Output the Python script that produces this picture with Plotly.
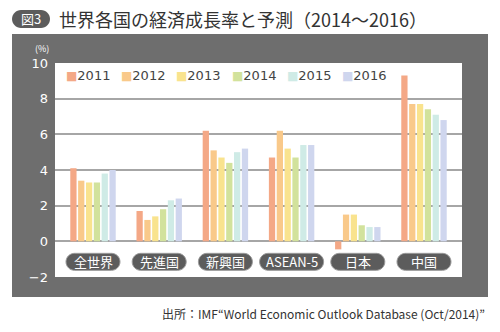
import plotly.graph_objects as go

categories = ["全世界", "先進国", "新興国", "ASEAN-5", "日本", "中国"]
years = ["2011", "2012", "2013", "2014", "2015", "2016"]
v2011 = [4.1, 1.7, 6.2, 4.7, -0.45, 9.3]
v2012 = [3.4, 1.2, 5.1, 6.2, 1.5, 7.7]
v2013 = [3.3, 1.4, 4.7, 5.2, 1.5, 7.7]
v2014 = [3.3, 1.8, 4.4, 4.7, 0.9, 7.4]
v2015 = [3.8, 2.3, 5.0, 5.4, 0.8, 7.1]
v2016 = [4.0, 2.4, 5.2, 5.4, 0.8, 6.8]
series = [v2011, v2012, v2013, v2014, v2015, v2016]
colors = ["#F4A886", "#F9C98A", "#F9E38E", "#D2E29C", "#CFEBE6", "#CFD6EE"]
yticks = [-2, 0, 2, 4, 6, 8, 10]

JP = "Noto Sans CJK JP"
xpos = list(range(len(categories)))

fig = go.Figure()
for name, vals, col in zip(years, series, colors):
    fig.add_trace(go.Bar(x=xpos, y=vals, name=name, marker=dict(color=col, line=dict(width=0)),
                         showlegend=False))

L, R, T, B = 55, 38, 63, 55
W, H = 500, 332
pw, ph = W - L - R, H - T - B

def px_x(p):
    return (p - L) / pw

def px_y(p):
    return (H - B - p) / ph

shapes = []
# grey panel
shapes.append(dict(type="rect", xref="paper", yref="paper", x0=px_x(12), x1=px_x(488),
                   y0=px_y(297), y1=px_y(34), fillcolor="#6e6e6e", line=dict(width=0), layer="below"))
# white plot area
shapes.append(dict(type="rect", xref="paper", yref="paper", x0=0, x1=1, y0=0, y1=1,
                   fillcolor="white", line=dict(width=0), layer="below"))

def pill(w, h):
    hw, hh = w / 2, h / 2
    r = hh
    k = 0.552 * r
    return (f"M {-hw + r},{-hh} L {hw - r},{-hh} "
            f"C {hw - r + k},{-hh} {hw},{-k} {hw},0 "
            f"C {hw},{k} {hw - r + k},{hh} {hw - r},{hh} "
            f"L {-hw + r},{hh} "
            f"C {-hw + r - k},{hh} {-hw},{k} {-hw},0 "
            f"C {-hw},{-k} {-hw + r - k},{-hh} {-hw + r},{-hh} Z")

annotations = []
pill_y = -1.15
for i, c in enumerate(categories):
    w = 64 if c == "ASEAN-5" else 54
    shapes.append(dict(type="path", xref="x", yref="y", xsizemode="pixel", ysizemode="pixel",
                       xanchor=i, yanchor=pill_y, path=pill(w, 17),
                       fillcolor="#5c5c5c", line=dict(color="#9a9a9a", width=1), layer="above"))
    annotations.append(dict(x=i, y=pill_y, xref="x", yref="y", text=c, showarrow=False,
                            font=dict(family=JP, size=13, color="white"),
                            xanchor="center", yanchor="middle"))

# title badge
shapes.append(dict(type="path", xref="paper", yref="paper", xsizemode="pixel", ysizemode="pixel",
                   xanchor=px_x(31), yanchor=px_y(19), path=pill(38, 18),
                   fillcolor="#5c5c5c", line=dict(width=0)))
annotations.append(dict(x=px_x(31), y=px_y(19), xref="paper", yref="paper", text="図3",
                        showarrow=False, font=dict(family=JP, size=13, color="white"),
                        xanchor="center", yanchor="middle"))
annotations.append(dict(x=px_x(57), y=px_y(19), xref="paper", yref="paper",
                        text="世界各国の経済成長率と予測（2014～2016）",
                        showarrow=False, font=dict(family=JP, size=18, color="#333333"),
                        xanchor="left", yanchor="middle"))
# unit
annotations.append(dict(x=px_x(42), y=px_y(48), xref="paper", yref="paper", text="(%)",
                        showarrow=False, font=dict(family=JP, size=9, color="white"),
                        xanchor="center", yanchor="middle"))
# legend
for j, (name, col) in enumerate(zip(years, colors)):
    annotations.append(dict(x=px_x(64 + j * 55.2), y=px_y(76), xref="paper", yref="paper",
                            text=f"<span style='color:{col};font-size:12px'>■</span>{name}",
                            showarrow=False, font=dict(family="DejaVu Sans", size=13, color="#444444"),
                            xanchor="left", yanchor="middle"))
# source
annotations.append(dict(x=px_x(487), y=px_y(313), xref="paper", yref="paper",
                        text="出所：IMF“World Economic Outlook Database (Oct/2014)”",
                        showarrow=False, font=dict(family=JP, size=12, color="#333333"),
                        xanchor="right", yanchor="middle"))

fig.update_layout(
    width=W, height=H,
    margin=dict(l=L, r=R, t=T, b=B, pad=0),
    paper_bgcolor="white", plot_bgcolor="rgba(0,0,0,0)",
    barmode="group", bargap=0.29, bargroupgap=0.2,
    shapes=shapes, annotations=annotations, showlegend=False,
    xaxis=dict(range=[-0.574, 5.574], showticklabels=False, showgrid=False, zeroline=False,
               showline=False, ticks=""),
    yaxis=dict(range=[-2, 10], tickvals=yticks, showgrid=True, gridcolor="#a6a6a6", gridwidth=1.5,
               zeroline=True, zerolinecolor="#a6a6a6", zerolinewidth=1.5, showline=False,
               ticks="", ticklabelstandoff=6,
               tickfont=dict(family="DejaVu Sans", size=13, color="white")),
)

fig.write_html("out.html")
